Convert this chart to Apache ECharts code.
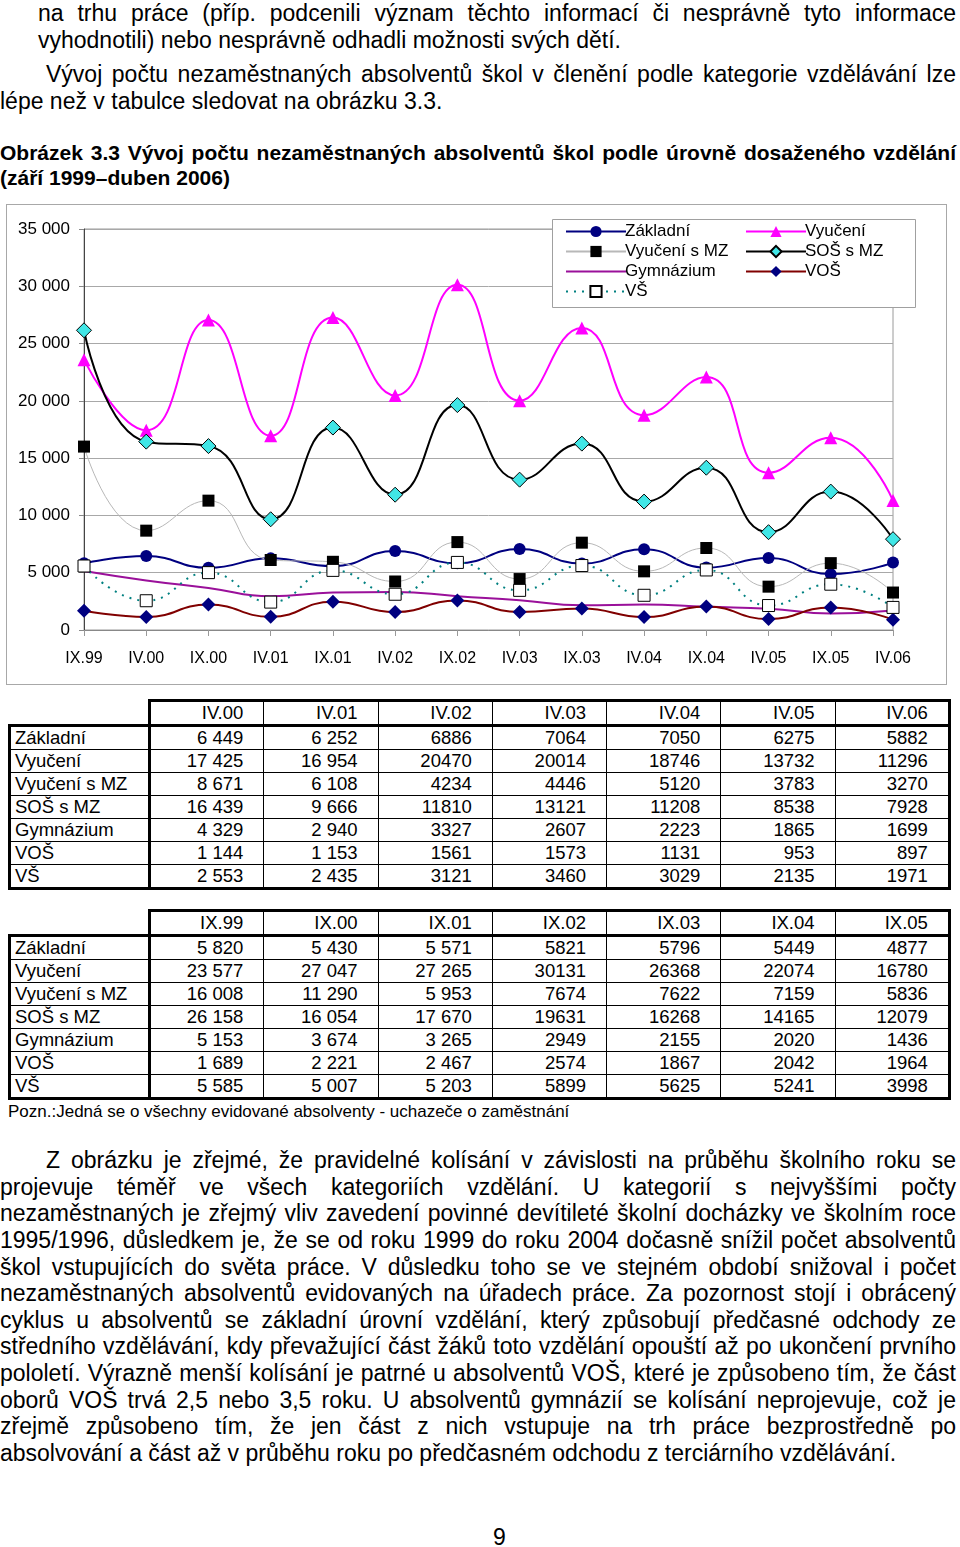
<!DOCTYPE html>
<html>
<head>
<meta charset="utf-8">
<script src="https://cdn.jsdelivr.net/npm/echarts@6/dist/echarts.min.js"></script>
<style>
  html, body { margin: 0; padding: 0; background: #fff; }
  body { width: 960px; height: 1547px; position: relative; overflow: hidden;
         font-family: 'Liberation Sans', Arial, sans-serif; color: #000; }
  .ln { position: absolute; font-size: 23px; line-height: 26px; white-space: nowrap; }
  .j { text-align: justify; text-align-last: justify; white-space: normal; }
  .h { font-weight: bold; font-size: 21px; line-height: 25px; }
  #chart { position: absolute; left: 6px; top: 204px; width: 939px; height: 479px; border: 1px solid #a8a8a8; }
  table.t { position: absolute; left: 8px; border-collapse: collapse; table-layout: fixed; width: 940px;
            font-family: 'Liberation Sans', Arial, sans-serif; font-size: 18.5px; }
  table.t td { height: 22px; padding: 0 20px 0 4px; line-height: 22px; text-align: right; white-space: nowrap;
               overflow: hidden; border: 1px solid #000; }
  table.t td.lab { text-align: left; border-left: 3px solid #000; border-right: 3px solid #000; }
  table.t td.empty { border: none; border-right: 3px solid #000; }
  table.t tr.hd td { border-top: 3px solid #000; border-bottom: 3px solid #000; }
  table.t tr.hd td.empty { border-top: none; border-bottom: 3px solid #000; }
  table.t tr.last td { border-bottom: 3px solid #000; }
  table.t td.lastc { border-right: 3px solid #000; }
  .note { position: absolute; left: 8px; top: 1102px; font-size: 17px; line-height: 20px; white-space: nowrap; }
</style>
</head>
<body>
<div class="ln j" style="left:38px; width:918px; top:0px;">na trhu práce (příp. podcenili význam těchto informací či nesprávně tyto informace</div>
<div class="ln" style="left:38px; top:27px;">vyhodnotili) nebo nesprávně odhadli možnosti svých dětí.</div>
<div class="ln j" style="left:46px; width:910px; top:61px;">Vývoj počtu nezaměstnaných absolventů škol v&nbsp;členění podle kategorie vzdělávání lze</div>
<div class="ln" style="left:0px; top:88px;">lépe než v tabulce sledovat na obrázku 3.3.</div>
<div class="ln j h" style="left:0px; width:956px; top:140px;">Obrázek 3.3 Vývoj počtu nezaměstnaných absolventů škol podle úrovně dosaženého vzdělání</div>
<div class="ln h" style="left:0px; top:165px;">(září 1999–duben 2006)</div>

<div id="chart"></div>

<table class="t" id="tab1" style="top:699px;"></table>
<table class="t" id="tab2" style="top:909px;"></table>
<div class="note">Pozn.:Jedná se o všechny evidované absolventy - uchazeče o zaměstnání</div>

<div id="para"></div>
<div class="ln" style="left:493px; top:1524px;">9</div>

<script>
// ---------- DATA ----------
const categories = ['IX.99','IV.00','IX.00','IV.01','IX.01','IV.02','IX.02','IV.03','IX.03','IV.04','IX.04','IV.05','IX.05','IV.06'];
const aprilLabels = ['IV.00','IV.01','IV.02','IV.03','IV.04','IV.05','IV.06'];
const septLabels  = ['IX.99','IX.00','IX.01','IX.02','IX.03','IX.04','IX.05'];
const seriesNames = ['Základní','Vyučení','Vyučení s MZ','SOŠ s MZ','Gymnázium','VOŠ','VŠ'];

const zakladniIV   = [6449, 6252, 6886, 7064, 7050, 6275, 5882];
const zakladniIX   = [5820, 5430, 5571, 5821, 5796, 5449, 4877];
const vyuceniIV    = [17425, 16954, 20470, 20014, 18746, 13732, 11296];
const vyuceniIX    = [23577, 27047, 27265, 30131, 26368, 22074, 16780];
const vyuceniMZIV  = [8671, 6108, 4234, 4446, 5120, 3783, 3270];
const vyuceniMZIX  = [16008, 11290, 5953, 7674, 7622, 7159, 5836];
const sosMZIV      = [16439, 9666, 11810, 13121, 11208, 8538, 7928];
const sosMZIX      = [26158, 16054, 17670, 19631, 16268, 14165, 12079];
const gymnaziumIV  = [4329, 2940, 3327, 2607, 2223, 1865, 1699];
const gymnaziumIX  = [5153, 3674, 3265, 2949, 2155, 2020, 1436];
const vosIV        = [1144, 1153, 1561, 1573, 1131, 953, 897];
const vosIX        = [1689, 2221, 2467, 2574, 1867, 2042, 1964];
const vsIV         = [2553, 2435, 3121, 3460, 3029, 2135, 1971];
const vsIX         = [5585, 5007, 5203, 5899, 5625, 5241, 3998];

const yTicks = [0, 5000, 10000, 15000, 20000, 25000, 30000, 35000];
const aprilSpacedCols = 2;   // columns printed with a thousands space
const septSpacedCols = 3;

const paraLines = [
  'Z obrázku je zřejmé, že pravidelné kolísání v\u00a0závislosti na průběhu školního roku se',
  'projevuje téměř ve všech kategoriích vzdělání. U kategorií s\u00a0nejvyššími počty',
  'nezaměstnaných je zřejmý vliv zavedení povinné devítileté školní docházky ve školním roce',
  '1995/1996, důsledkem je, že se od roku 1999 do roku 2004 dočasně snížil počet absolventů',
  'škol vstupujících do světa práce. V\u00a0důsledku toho se ve stejném období snižoval i počet',
  'nezaměstnaných absolventů evidovaných na úřadech práce. Za pozornost stojí i obrácený',
  'cyklus u absolventů se základní úrovní vzdělání, který způsobují předčasné odchody ze',
  'středního vzdělávání, kdy převažující část žáků toto vzdělání opouští až po ukončení prvního',
  'pololetí. Výrazně menší kolísání je patrné u absolventů VOŠ, které je způsobeno tím, že část',
  'oborů VOŠ trvá 2,5 nebo 3,5 roku. U absolventů gymnázií se kolísání neprojevuje, což je',
  'zřejmě způsobeno tím, že jen část z\u00a0nich vstupuje na trh práce bezprostředně po',
  'absolvování a část až v\u00a0průběhu roku po předčasném odchodu z\u00a0terciárního vzdělávání.'
];

// ---------- helpers ----------
const ivData = [zakladniIV, vyuceniIV, vyuceniMZIV, sosMZIV, gymnaziumIV, vosIV, vsIV];
const ixData = [zakladniIX, vyuceniIX, vyuceniMZIX, sosMZIX, gymnaziumIX, vosIX, vsIX];
function interleave(ix, iv) { const out = []; for (let i = 0; i < ix.length; i++) { out.push(ix[i]); out.push(iv[i]); } return out; }
function spaced(v) { return String(v).replace(/\B(?=(\d{3})+(?!\d))/g, ' '); }

// ---------- paragraph ----------
const para = document.getElementById('para');
paraLines.forEach((t, i) => {
  const d = document.createElement('div');
  const last = i === paraLines.length - 1;
  d.className = 'ln' + (last ? '' : ' j');
  const left = i === 0 ? 46 : 0;
  d.style.left = left + 'px';
  if (!last) d.style.width = (956 - left) + 'px';
  d.style.top = (1147 + 26.64 * i) + 'px';
  d.textContent = t;
  para.appendChild(d);
});

// ---------- tables ----------
function buildTable(id, labels, data, spacedCols) {
  const tb = document.getElementById(id);
  let html = '<colgroup><col style="width:140px">' + labels.map(() => '<col style="width:114.28px">').join('') + '</colgroup>';
  html += '<tr class="hd"><td class="empty"></td>' + labels.map((l, c) => '<td' + (c === labels.length - 1 ? ' class="lastc"' : '') + '>' + l + '</td>').join('') + '</tr>';
  seriesNames.forEach((name, r) => {
    html += '<tr' + (r === seriesNames.length - 1 ? ' class="last"' : '') + '><td class="lab">' + name + '</td>';
    html += data[r].map((v, c) => '<td' + (c === labels.length - 1 ? ' class="lastc"' : '') + '>' + (c < spacedCols ? spaced(v) : String(v)) + '</td>').join('');
    html += '</tr>';
  });
  tb.innerHTML = html;
}
buildTable('tab1', aprilLabels, ivData, aprilSpacedCols);
buildTable('tab2', septLabels, ixData, septSpacedCols);

// ---------- chart ----------
const FONT = "'Liberation Sans', Arial, sans-serif";
const styles = [
  { line: { color: '#000080', width: 2 }, item: { color: '#000080' }, symbol: 'circle', size: 12 },
  { line: { color: '#ff00ff', width: 2 }, item: { color: '#ff00ff' }, symbol: 'triangle', size: 13 },
  { line: { color: '#b8b8b8', width: 1 }, item: { color: '#000000' }, symbol: 'rect', size: 12 },
  { line: { color: '#000000', width: 2 }, item: { color: '#40e6e6', borderColor: '#000', borderWidth: 1 }, symbol: 'diamond', size: 15 },
  { line: { color: '#9a109a', width: 2 }, item: { color: '#9a109a' }, symbol: 'none', size: 0 },
  { line: { color: '#800000', width: 2 }, item: { color: '#000080' }, symbol: 'diamond', size: 14 },
  { line: { color: '#008080', width: 2, type: [2, 6] }, item: { color: '#ffffff', borderColor: '#000', borderWidth: 1 }, symbol: 'rect', size: 12 }
];

const series = seriesNames.map((name, i) => ({
  name: name,
  type: 'line',
  smooth: 0.5,
  data: interleave(ixData[i], ivData[i]),
  symbol: styles[i].symbol,
  symbolSize: styles[i].size,
  showSymbol: styles[i].symbol !== 'none',
  showAllSymbol: true,
  lineStyle: styles[i].line,
  itemStyle: styles[i].item,
  emphasis: { disabled: true }
}));

const legendText = { fontSize: 17, fontFamily: FONT, color: '#000', padding: [0, 0, 0, -6] };
const chart = echarts.init(document.getElementById('chart'), null, { renderer: 'canvas' });
chart.setOption({
  animation: false,
  backgroundColor: '#ffffff',
  textStyle: { fontFamily: FONT },
  grid: { left: 77, top: 24, right: 53, bottom: 54, show: true, borderColor: '#9a9a9a', borderWidth: 1, backgroundColor: 'transparent' },
  xAxis: {
    type: 'category', data: categories, boundaryGap: false,
    axisLine: { lineStyle: { color: '#888', width: 1 } },
    axisTick: { show: true, length: 6, alignWithLabel: true, lineStyle: { color: '#999' } },
    axisLabel: { color: '#000', fontSize: 16, fontFamily: FONT, margin: 21, interval: 0 },
    splitLine: { show: false }
  },
  yAxis: {
    type: 'value', min: yTicks[0], max: yTicks[yTicks.length - 1], interval: yTicks[1] - yTicks[0],
    axisLine: { show: true, lineStyle: { color: '#444', width: 1 } },
    axisTick: { show: true, length: 5, lineStyle: { color: '#888' } },
    axisLabel: { color: '#000', fontSize: 17, fontFamily: FONT, margin: 14, formatter: v => spaced(v) },
    splitLine: { show: true, lineStyle: { color: '#a8a8a8', width: 1 } }
  },
  graphic: [{
    type: 'rect', left: 545, top: 14, z: 3,
    shape: { width: 363, height: 88 },
    style: { fill: '#ffffff', stroke: '#a0a0a0', lineWidth: 1 }
  }],
  legend: [
    { data: ['Základní', 'Vyučení s MZ',
             { name: 'Gymnázium', itemStyle: { color: 'rgba(0,0,0,0)', borderWidth: 0, opacity: 0 } }, 'VŠ'],
      orient: 'vertical', left: 553, top: 13,
      itemWidth: 60, itemHeight: 14, itemGap: 3, selectedMode: false, z: 5, textStyle: legendText },
    { data: ['Vyučení', 'SOŠ s MZ', 'VOŠ'], orient: 'vertical', left: 733, top: 13,
      itemWidth: 60, itemHeight: 14, itemGap: 3, selectedMode: false, z: 5, textStyle: legendText }
  ],
  series: series
});
</script>
</body>
</html>
